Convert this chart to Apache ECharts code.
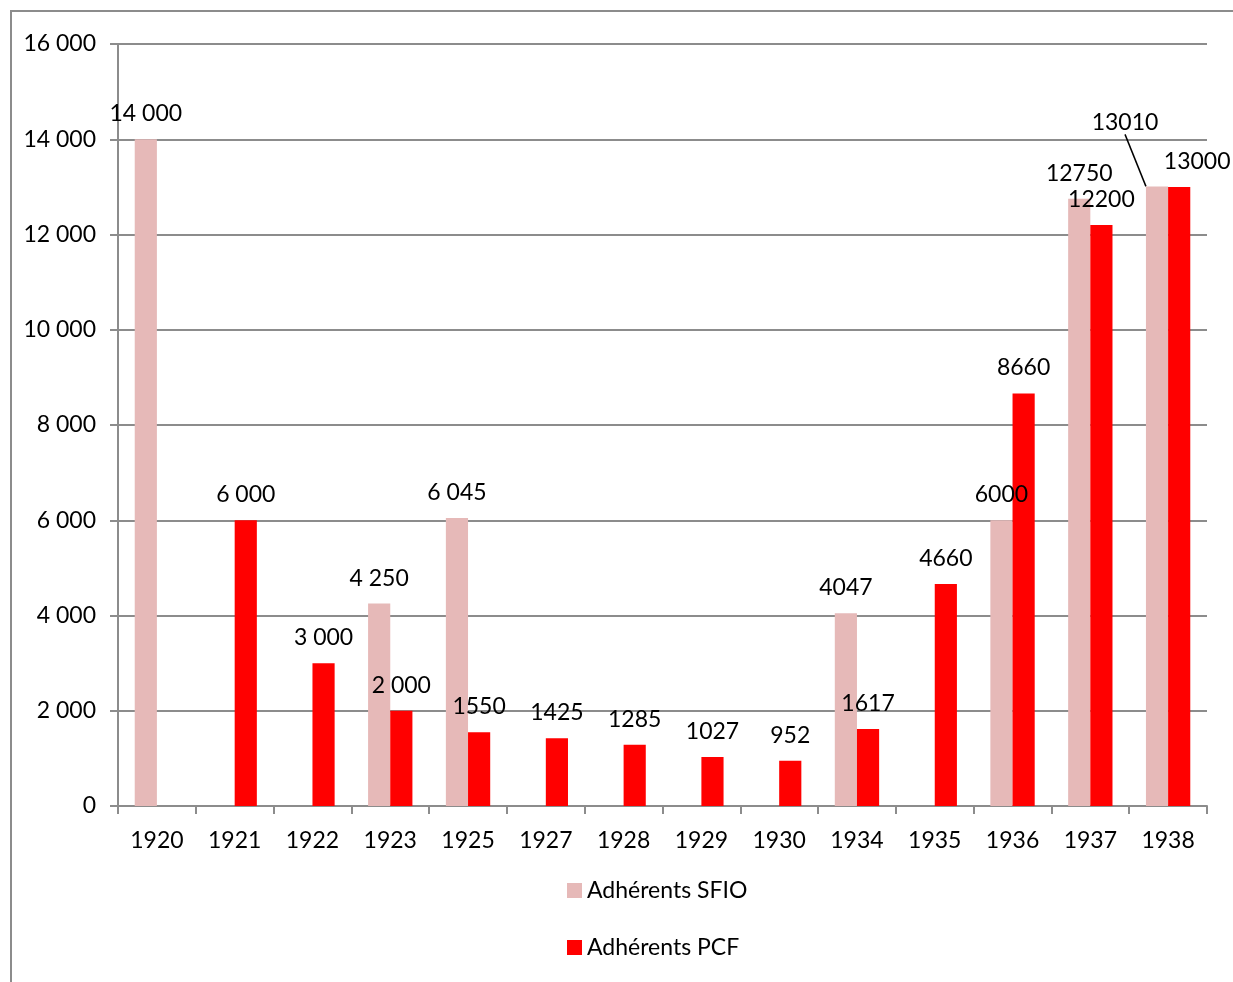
<!DOCTYPE html>
<html>
<head>
<meta charset="utf-8">
<script src="https://cdn.jsdelivr.net/npm/echarts@6/dist/echarts.min.js"></script>
<style>
html,body{margin:0;padding:0;background:#fff;}
#frame{position:absolute;left:10px;top:10px;width:1223px;height:972px;border-top:2px solid #8c8c8c;border-left:2px solid #8c8c8c;box-sizing:border-box;}
#chart{position:absolute;left:0;top:0;width:1233px;height:982px;}
</style>
</head>
<body>
<div id="frame"></div>
<div id="chart"></div>
<script>
var categories = ['1920','1921','1922','1923','1925','1927','1928','1929','1930','1934','1935','1936','1937','1938'];
var sfioValues = [14000, null, null, 4250, 6045, null, null, null, null, 4047, null, 6000, 12750, 13010];
var pcfValues  = [null, 6000, 3000, 2000, 1550, 1425, 1285, 1027, 952, 1617, 4660, 8660, 12200, 13000];
var sfioLabels = ['14 000', '', '', '4 250', '6 045', '', '', '', '', '4047', '', '6000', '12750', '13010'];
var pcfLabels  = ['', '6 000', '3 000', '2 000', '1550', '1425', '1285', '1027', '952', '1617', '4660', '8660', '12200', '13000'];
var seriesNames = ['Adhérents SFIO', 'Adhérents PCF'];

var FONT = 'Lato, "Liberation Sans", sans-serif';
var FS = 23;
var chart = echarts.init(document.getElementById('chart'), null, {renderer: 'canvas'});
function fmt(v){ return String(v).replace(/\B(?=(\d{3})+(?!\d))/g, ' '); }
var sfioData = sfioValues.map(function(v, i){
  return i === 13 ? {value: v, labelLine: {show: true}} : v;
});
chart.setOption({
  animation: false,
  textStyle: {fontFamily: FONT},
  grid: {left: 118, right: 26, top: 44, bottom: 176, containLabel: false},
  legend: {
    orient: 'vertical', left: 562, top: 874, itemGap: 34,
    itemWidth: 15, itemHeight: 15, icon: 'rect',
    textStyle: {fontSize: FS, color: '#000', fontFamily: FONT},
    data: seriesNames
  },
  xAxis: {
    type: 'category', data: categories,
    axisLine: {lineStyle: {color: '#8c8c8c', width: 2}},
    axisTick: {show: true, length: 8, alignWithLabel: false, lineStyle: {color: '#8c8c8c', width: 2}},
    axisLabel: {fontSize: FS, color: '#000', margin: 23, fontFamily: FONT}
  },
  yAxis: {
    type: 'value', min: 0, max: 16000, interval: 2000,
    axisLine: {show: true, lineStyle: {color: '#8c8c8c', width: 2}},
    axisTick: {show: true, length: 8, lineStyle: {color: '#8c8c8c', width: 2}},
    splitLine: {lineStyle: {color: '#8c8c8c', width: 2}},
    axisLabel: {fontSize: FS, color: '#000', margin: 22, fontFamily: FONT, formatter: fmt}
  },
  series: [
    {
      name: seriesNames[0], type: 'bar', data: sfioData,
      barGap: '0%', barCategoryGap: '43%',
      itemStyle: {color: '#E6B9B8'},
      label: {show: true, position: 'top', distance: 14, fontSize: FS, color: '#000', fontFamily: FONT,
        formatter: function(p){ return sfioLabels[p.dataIndex]; }},
      labelLine: {show: false, lineStyle: {color: '#000', width: 1.5}},
      labelLayout: function(p){ if (p.dataIndex === 13) return {dx: -32, dy: -38}; return {}; }
    },
    {
      name: seriesNames[1], type: 'bar', data: pcfValues,
      barGap: '0%', barCategoryGap: '43%',
      itemStyle: {color: '#FF0000'},
      label: {show: true, position: 'top', distance: 14, fontSize: FS, color: '#000', fontFamily: FONT,
        formatter: function(p){ return pcfLabels[p.dataIndex]; }},
      labelLine: {show: false},
      labelLayout: function(p){ if (p.dataIndex === 13) return {dx: 18, dy: 0}; return {}; }
    }
  ]
});
</script>
</body>
</html>
